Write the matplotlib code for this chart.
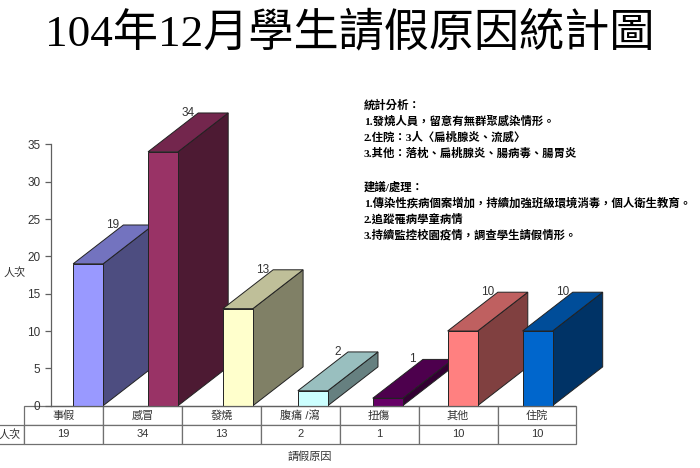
import matplotlib
matplotlib.use('Agg')
import matplotlib.pyplot as plt
from matplotlib.patches import Polygon, Rectangle

plt.rcParams['font.family'] = ['Liberation Sans', 'Noto Sans CJK TC']

# data
categories = ['事假', '感冒', '發燒', '腹痛 /瀉', '扭傷', '其他', '住院']
counts = [19, 34, 13, 2, 1, 10, 10]
row_label = '人次'
title = '104年12月學生請假原因統計圖'
notes = ['統計分析：',
         '1.發燒人員，留意有無群聚感染情形。',
         '2.住院：3人〈扁桃腺炎、流感〉',
         '3.其他：落枕、扁桃腺炎、腸病毒、腸胃炎',
         '',
         '建議/處理：',
         '1.傳染性疾病個案增加，持續加強班級環境消毒，個人衛生教育。',
         '2.追蹤罹病學童病情',
         '3.持續監控校園疫情，調查學生請假情形。']

# colours (front, top, side) excel style
fronts = ['#9999FF', '#993366', '#FFFFCC', '#CCFFFF', '#660066', '#FF8080', '#0066CC']
tops = ['#7373BF', '#73264D', '#BFBF99', '#99BFBF', '#4D004D', '#BF6060', '#004D99']
sides = ['#4D4D80', '#4D1A33', '#808066', '#668080', '#330033', '#804040', '#003366']

# 3d look
bar_off = 0.30    # gap from category start
bar_w = 0.40
dep_x = 0.67
dep_y = 5.2

fig = plt.figure(figsize=(7, 4.68), dpi=100)
ax = fig.add_axes([0.0724, 0.1331, 0.749, 0.5585])
ax.set_xlim(0, len(categories))
ax.set_ylim(0, 35)
ax.set_yticks(range(0, 36, 5))
ax.set_xticks([])
for s in ['top', 'right']:
    ax.spines[s].set_visible(False)
for s in ['left', 'bottom']:
    ax.spines[s].set_color('#606060')
    ax.spines[s].set_linewidth(0.9)
ax.tick_params(axis='y', labelsize=8.5, colors='#606060', labelcolor='#333333', length=4, width=0.9)

ec = '#222222'
for i, v in enumerate(counts):
    l = i + bar_off
    side = Polygon([(l + bar_w, 0), (l + bar_w + dep_x, dep_y), (l + bar_w + dep_x, v + dep_y), (l + bar_w, v)],
                   closed=True, facecolor=sides[i], edgecolor=ec, lw=0.7, clip_on=False)
    top = Polygon([(l, v), (l + bar_w, v), (l + bar_w + dep_x, v + dep_y), (l + dep_x, v + dep_y)],
                  closed=True, facecolor=tops[i], edgecolor=ec, lw=0.7, clip_on=False)
    front = Rectangle((l, 0), bar_w, v, facecolor=fronts[i], edgecolor=ec, lw=0.7, clip_on=False)
    ax.add_patch(side)
    ax.add_patch(top)
    ax.add_patch(front)
    ax.text(l + 0.53, v + dep_y, str(v), ha='center', va='center', fontsize=8.5, color='#333333', clip_on=False)

# table under the chart
tbl = ax.table(cellText=[[str(v) for v in counts]], rowLabels=[row_label], colLabels=categories,
               cellLoc='center', rowLoc='center', bbox=[-0.0534, -0.1465, 1.0534, 0.1465])
tbl.auto_set_font_size(False)
tbl.set_fontsize(8)
for (r, c), cell in tbl.get_celld().items():
    cell.set_edgecolor('#707070')
    cell.set_linewidth(0.9)
    cell.set_width(0.0534 if c == -1 else 1.0 / len(categories))
    cell.get_text().set_color('#333333')

fig.text(15 / 700, 1 - 272 / 468, row_label, ha='center', va='center', fontsize=8, color='#333333')
fig.text(310 / 700, 1 - 457 / 468, '請假原因', ha='center', va='center', fontsize=8, color='#333333')

fig.text(0.5, 1 - 33 / 468, title, ha='center', va='center', fontsize=32.5,
         family=['Liberation Serif', 'Noto Sans CJK TC'])

y = 105
for line in notes:
    if line:
        fig.text(364 / 700, 1 - y / 468, line, ha='left', va='center', fontsize=8.2, weight='bold',
                 family=['Liberation Serif', 'Noto Sans CJK TC'])
    y += 16 if line else 18

fig.savefig('out.png', dpi=100)
